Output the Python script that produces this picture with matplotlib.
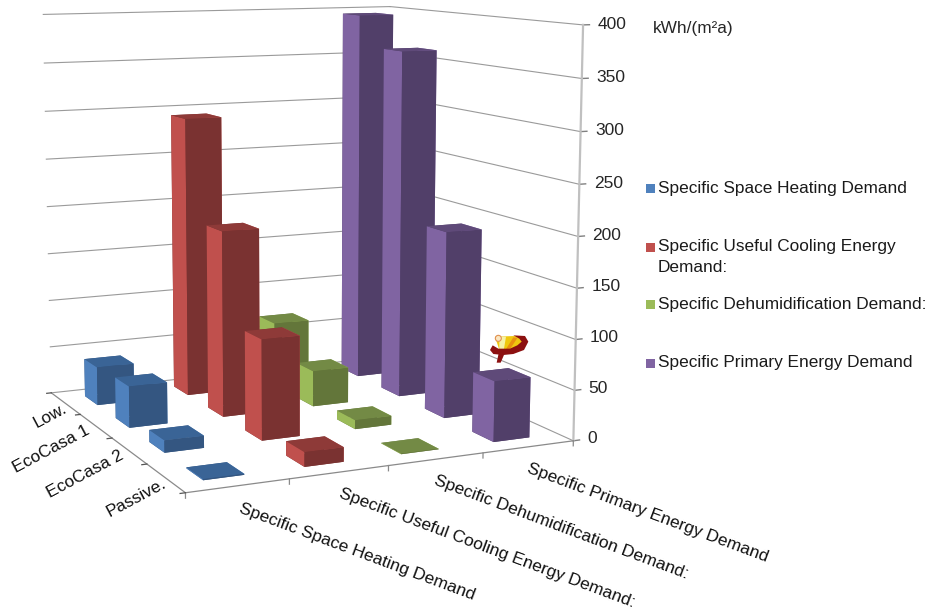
import numpy as np
import matplotlib
matplotlib.use("Agg")
import matplotlib.pyplot as plt
from matplotlib.patches import Polygon, Circle, Rectangle
from mpl_toolkits.mplot3d import proj3d

plt.rcParams['font.family'] = ['Liberation Sans', 'DejaVu Sans']

# buildings run front to back as Passive, EcoCasa 2, EcoCasa 1, Low
categories = ["Passive.", "EcoCasa 2", "EcoCasa 1", "Low."]
series_names = ["Specific Space Heating Demand",
                "Specific Useful Cooling Energy Demand:",
                "Specific Dehumidification Demand:",
                "Specific Primary Energy Demand"]
heating = [1, 12, 42, 40]
cooling = [14, 100, 190, 293]
dehumid = [0.5, 9, 37, 68]
primary = [60, 190, 363, 395]
values = [heating, cooling, dehumid, primary]
z_ticks = [0, 50, 100, 150, 200, 250, 300, 350, 400]

# left face, top face, right face
face_colors = [("#4F81BD", "#3A6496", "#345681"),
               ("#C0504D", "#8E3A38", "#7A3231"),
               ("#9BBB59", "#738A45", "#63763A"),
               ("#8064A2", "#5F4A79", "#513F69")]

fig = plt.figure(figsize=(9.3, 6.14), dpi=100)
ax = fig.add_axes([0, 0, 1, 1], projection='3d')
ax.set_xlim(0, 4)
ax.set_ylim(0, 4)
ax.set_zlim(0, 400)
ax.view_init(9.1257, -114.7169)
ax.set_proj_type('persp', focal_length=0.5284)
ax.set_box_aspect((1.0032, 0.9769, 1.0))
ax.computed_zorder = False
ax.set_axis_off()

# camera scale and offset, in pixels
s, tx, ty = 3622.86, 299.89, 220.83
side = s * 0.185
ax.set_position([(tx - s * 0.095) / 930, (614 - ty - s * 0.095) / 614,
                 side / 930, side / 614])

grid = "#9A9A9A"
for z in z_ticks:
    ax.plot([0, 4], [4, 4], [z, z], color=grid, lw=0.8, zorder=1)
    ax.plot([4, 4], [0, 4], [z, z], color=grid, lw=0.8, zorder=1)
    ax.plot([4, 4.07], [0, 0], [z, z], color="#808080", lw=1.0, zorder=1)
ax.plot([4, 4], [0, 0], [0, 400], color="#C0C0C0", lw=1.6, zorder=1)
ax.plot([0, 4], [0, 0], [0, 0], color="#8A8A8A", lw=0.9, zorder=1)
ax.plot([0, 0], [0, 4], [0, 0], color="#8A8A8A", lw=0.9, zorder=1)
for i in range(5):
    ax.plot([i, i], [0, 0], [0, -5], color="#8A8A8A", lw=0.9, zorder=1)
    ax.plot([0, -0.05], [i, i], [0, 0], color="#555555", lw=0.9, zorder=1)

bar_w = 0.40
bar_d = 0.42
order = 2
for j in range(3, -1, -1):
    for i in range(3, -1, -1):
        left, top, right = face_colors[i]
        # bar3d faces: bottom, top, -y, +y, -x, +x
        cols = [right, top, right, right, left, left]
        ax.bar3d(i + 0.48 - bar_w / 2, j + 0.5 - bar_d / 2, 0, bar_w, bar_d,
                 values[i][j], color=cols, shade=False, linewidth=0,
                 zorder=order)
        order += 1

ov = fig.add_axes([0, 0, 1, 1], zorder=5)
ov.set_xlim(0, 930)
ov.set_ylim(614, 0)
ov.axis('off')

# value labels sit just right of the vertical axis
M = ax.get_proj()
for z in z_ticks:
    X, Y, _ = proj3d.proj_transform(4.16, 0, z, M)
    ov.text(tx + s * X, ty - s * Y, str(z), fontsize=12.5, color="#262626",
            ha='left', va='center')

# series names along the floor edge
name_anchor = [(238, 512), (338, 497), (433, 484), (526, 472)]
for name, (px, py) in zip(series_names, name_anchor):
    ov.text(px, py, name, fontsize=12.5, color="#111111", rotation=-20.5,
            rotation_mode='anchor', ha='left', va='baseline')

# building names, right aligned at the floor edge
cat_anchor = [(167, 486), (124, 458), (91, 433), (68, 411)]
for name, (px, py) in zip(categories, cat_anchor):
    ov.text(px, py, name, fontsize=12.4, color="#111111", rotation=28,
            rotation_mode='anchor', ha='right', va='baseline')

ov.text(653, 33, "kWh/(m²a)", fontsize=12.4, color="#262626")

# legend
legend_y = [188, 247, 304, 363]
for k, y in enumerate(legend_y):
    ov.add_patch(Rectangle((645.5, y - 4.5), 9, 9, color=face_colors[k][0], lw=0))
legend_lines = [(188, "Specific Space Heating Demand"),
                (247, "Specific Useful Cooling Energy"),
                (267, "Demand:"),
                (304, "Specific Dehumidification Demand:"),
                (363, "Specific Primary Energy Demand")]
for y, txt in legend_lines:
    ov.text(658, y, txt, fontsize=12.4, color="#1a1a1a", va='center')

# small logo above the last purple bar
ox, oy = 460, 320
def logo(pts):
    return [(ox + a / 3, oy + b / 3) for a, b in pts]
ov.add_patch(Polygon(logo([(105, 50), (165, 48), (190, 60), (185, 80), (160, 95),
                           (135, 100), (118, 90)]), color="#EFC80F", lw=0))
ov.add_patch(Polygon(logo([(118, 50), (138, 50), (130, 98), (118, 90)]), color="#F5F2A8", lw=0))
ov.add_patch(Polygon(logo([(160, 52), (172, 54), (142, 100), (130, 100)]), color="#E8900F", lw=0))
ov.add_patch(Polygon(logo([(160, 46), (195, 48), (205, 65), (192, 90), (160, 102), (130, 105),
                           (100, 102), (90, 90), (98, 76), (115, 86), (150, 86), (172, 76),
                           (185, 65), (178, 56)]), color="#8C1010", lw=0))
ov.add_patch(Polygon(logo([(116, 100), (134, 100), (122, 128), (110, 128)]), color="#8C1010", lw=0))
ov.add_patch(Circle((ox + 115 / 3, oy + 55 / 3), 3, facecolor="#FBE6C0", edgecolor="#E09050", lw=0.8))

fig.savefig('out.png', dpi=100)
